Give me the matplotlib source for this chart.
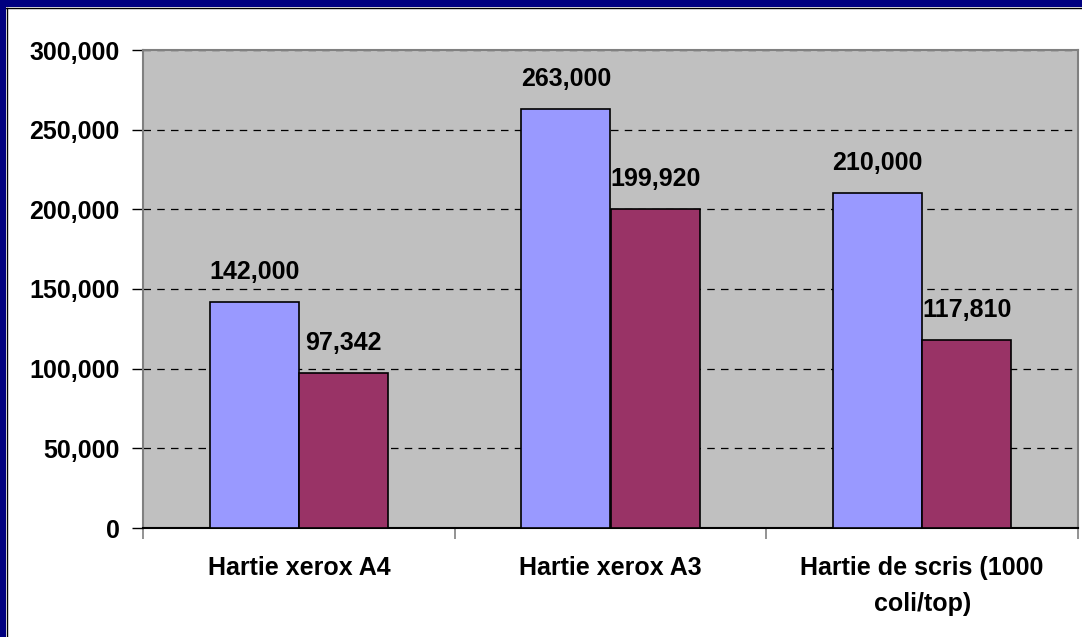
import matplotlib.pyplot as plt
import matplotlib.patches as mpatches
import numpy as np
from matplotlib.ticker import FuncFormatter

# date
categorii = ['Hartie xerox A4', 'Hartie xerox A3', 'Hartie de scris (1000\ncoli/top)']
serie_1 = [142000, 263000, 210000]
serie_2 = [97342, 199920, 117810]

plt.rcParams['font.family'] = ['Liberation Sans', 'DejaVu Sans']
plt.rcParams['font.weight'] = 'bold'

fig = plt.figure(figsize=(10.82, 6.37), dpi=100)
fig.patch.set_facecolor('white')

# chenar albastru (sus si stanga)
fig.patches.append(mpatches.Rectangle((0, 630 / 637), 1, 7 / 637, transform=fig.transFigure,
                                      facecolor='#000080', edgecolor='none', zorder=0))
fig.patches.append(mpatches.Rectangle((0, 0), 6 / 1082, 1, transform=fig.transFigure,
                                      facecolor='#000080', edgecolor='none', zorder=0))
fig.add_artist(plt.Line2D([6 / 1082, 1], [629.5 / 637, 629.5 / 637], transform=fig.transFigure,
                          color='black', lw=1))
fig.add_artist(plt.Line2D([6.5 / 1082, 6.5 / 1082], [0, 629.5 / 637], transform=fig.transFigure,
                          color='black', lw=1))

ax = fig.add_axes([143 / 1082, 109 / 637, 935 / 1082, 478 / 637])
ax.set_facecolor('#C0C0C0')

x = np.arange(len(categorii))
w = 0.286
b1 = ax.bar(x - w / 2, serie_1, w, color='#9999FF', edgecolor='black', linewidth=1.2, zorder=3)
b2 = ax.bar(x + w / 2, serie_2, w, color='#993366', edgecolor='black', linewidth=1.2, zorder=3)

for bars, vals in [(b1, serie_1), (b2, serie_2)]:
    for bar, v in zip(bars, vals):
        ax.annotate(f'{v:,}', (bar.get_x() + bar.get_width() / 2, v), xytext=(0, 13),
                    textcoords='offset points', ha='center', va='bottom',
                    fontsize=18, fontweight='bold', zorder=4)

ax.set_xlim(-0.5, 2.5)
ax.set_ylim(0, 300000)
ax.set_yticks(np.arange(0, 300001, 50000))
ax.yaxis.set_major_formatter(FuncFormatter(lambda v, p: f'{int(v):,}'))
ax.yaxis.grid(True, linestyle=(0, (6, 5)), color='black', linewidth=0.9, zorder=1)

ax.set_xticks([-0.5, 0.5, 1.5, 2.5])
ax.set_xticklabels([])
ax.set_xticks(x, minor=True)
ax.set_xticklabels(categorii, minor=True, fontsize=18, fontweight='bold', linespacing=1.65)
ax.tick_params(axis='x', which='minor', length=0, pad=20)
ax.tick_params(axis='x', which='major', length=8, width=1.2, color='#808080', direction='out')
ax.tick_params(axis='y', length=8, width=1, color='black', direction='out', labelsize=18, pad=9)
for lbl in ax.get_yticklabels():
    lbl.set_fontweight('bold')

for s in ['left', 'top', 'right']:
    ax.spines[s].set_color('#808080')
    ax.spines[s].set_linewidth(1.5)
ax.spines['bottom'].set_color('black')
ax.spines['bottom'].set_linewidth(1.5)

plt.savefig('out.png', dpi=100)
